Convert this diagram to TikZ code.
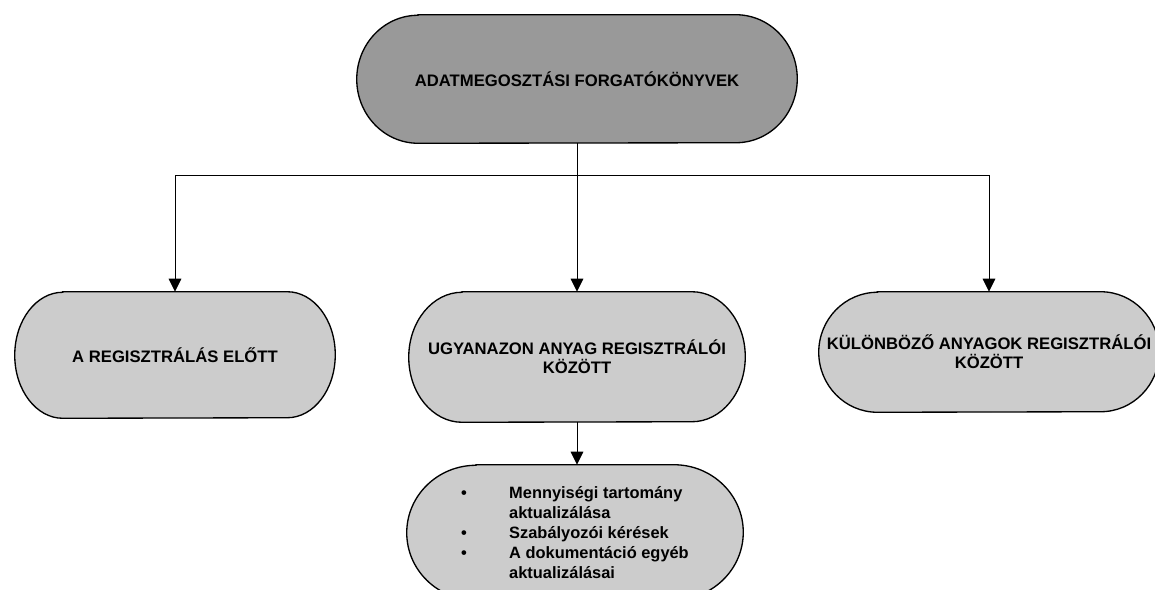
\documentclass[tikz,border=0pt]{standalone}
\usepackage{fontspec}
\setmainfont{Liberation Sans}
\usetikzlibrary{arrows.meta,calc}
\pgfdeclarelayer{background}
\pgfsetlayers{background,main}
\definecolor{darkfill}{HTML}{999999}
\definecolor{lightfill}{HTML}{CCCCCC}
\tikzset{
  lbl/.style={font=\bfseries\fontsize{12.5pt}{14.5pt}\selectfont, align=center, inner sep=0pt},
  conn/.style={line width=0.75pt, draw=black},
  arr/.style={conn, -{Triangle[length=9.75pt,width=9.5pt]}},
  outline/.style={draw=black, line width=1pt},
}
\newcommand\termshape[4]{%
  \begin{pgfonlayer}{background}
    \draw[outline,fill=#4] ($(#1.north west)+(#2,0pt)$) -- ($(#1.north east)-(#2,0pt)$)
      arc[start angle=90,end angle=-90,x radius=#2,y radius=#3]
      -- ($(#1.south west)+(#2,0pt)$)
      arc[start angle=270,end angle=90,x radius=#2,y radius=#3] -- cycle;
  \end{pgfonlayer}}
\begin{document}
\begin{tikzpicture}[x=0.75pt,y=-0.75pt]
\useasboundingbox (0,0) rectangle (1155,589);

\node[lbl, minimum width=330pt, minimum height=96pt] (top) at (577,79) {ADATMEGOSZTÁSI FORGATÓKÖNYVEK};
\node[lbl, minimum width=240pt, minimum height=94.5pt] (left) at (175,355) {A REGISZTRÁLÁS ELŐTT};
\node[lbl, minimum width=252pt, minimum height=97.5pt] (mid) at (577,357) {UGYANAZON ANYAG REGISZTRÁLÓI\\KÖZÖTT};
\node[lbl, minimum width=255pt, minimum height=90pt] (right) at (989,352) {KÜLÖNBÖZŐ ANYAGOK REGISZTRÁLÓI\\KÖZÖTT};
\node[lbl, align=left, font=\bfseries\fontsize{12.3pt}{15pt}\selectfont, minimum width=252pt, minimum height=101.25pt] (bot) at (575,532.5)
 {\makebox[36pt][l]{•}Mennyiségi tartomány\\
  \hspace*{36pt}aktualizálása\\
  \makebox[36pt][l]{•}Szabályozói kérések\\
  \makebox[36pt][l]{•}A dokumentáció egyéb\\
  \hspace*{36pt}aktualizálásai};

\termshape{top}{46pt}{48pt}{darkfill}
\termshape{left}{36pt}{47.25pt}{lightfill}
\termshape{mid}{40pt}{48.75pt}{lightfill}
\termshape{right}{44pt}{45pt}{lightfill}
\termshape{bot}{52pt}{50.625pt}{lightfill}

\coordinate (jn) at (577,175);
\draw[conn] (top.south) -- (jn);
\draw[arr] (jn) -| (left.north);
\draw[arr] (jn) -| (right.north);
\draw[arr] (jn) -- (mid.north);
\draw[arr] (mid.south) -- (mid.south |- bot.north);
\end{tikzpicture}
\end{document}
